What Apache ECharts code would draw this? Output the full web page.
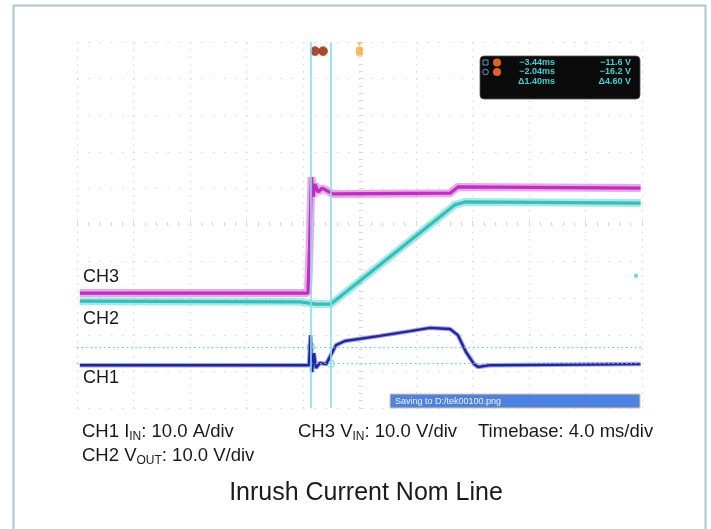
<!DOCTYPE html>
<html>
<head>
<meta charset="utf-8">
<title>Inrush Current Nom Line</title>
<script src="https://cdn.jsdelivr.net/npm/echarts@6/dist/echarts.min.js"></script>
<style>
  html, body { margin: 0; padding: 0; background: #fff; }
  #chart { width: 711px; height: 529px; }
</style>
</head>
<body>
<div id="chart"></div>
<script>
// time in ms (trigger at 0, 4 ms/div), level in screen divisions (centre = 0)
const ch3Time = [-19.8, -3.65, -3.54, -3.40, -3.29, -3.15, -2.94, -2.65, -1.88, 6.41, 6.97, 19.9]
const ch3Div  = [-1.86, -1.86, -0.68, 1.31, 0.77, 1.12, 0.90, 1.01, 0.85, 0.87, 1.04, 1.01]

const ch2Time = [-19.8, -4.2, -3.1, -2.02, 6.76, 7.47, 19.9]
const ch2Div  = [-2.08, -2.10, -2.16, -2.16, 0.55, 0.63, 0.60]

const ch1Time = [-19.8, -3.58, -3.47, -3.36, -3.22, -3.08, -2.80, -2.37, -2.02, -1.66, -1.03, 1.45, 3.58, 4.99, 6.41, 6.97, 7.54, 8.11, 8.39, 9.24, 19.9]
const ch1Div  = [-3.83, -3.83, -3.01, -4.02, -3.50, -3.91, -3.77, -3.80, -3.55, -3.28, -3.17, -3.03, -2.90, -2.81, -2.84, -3.01, -3.47, -3.80, -3.88, -3.83, -3.80]

// cursors a / b
const cursorTimes  = [-3.44, -2.04]
const cursorValues = [-11.6, -16.2]
const cursorLevelDiv = [-3.33, -3.79]

const font = 'Liberation Sans, Arial, Helvetica, sans-serif'
const pair = (xs, ys) => xs.map((x, i) => [x, ys[i]])
const fmt = (v, d) => (v < 0 ? '\u2212' : '') + Math.abs(v).toFixed(d)

const trace = (name, xs, ys, color, width, fuzz) => [
  { name: name + '-band', type: 'line', data: pair(xs, ys), showSymbol: false, silent: true,
    lineStyle: { color, width: fuzz, opacity: 0.4 } },
  { name, type: 'line', data: pair(xs, ys), showSymbol: false, silent: true,
    lineStyle: { color, width } },
]

const gridColor = '#d8d8d8'
const chart = echarts.init(document.getElementById('chart'))

const readout = [
  [fmt(cursorTimes[0], 2) + 'ms', fmt(cursorValues[0], 1) + ' V'],
  [fmt(cursorTimes[1], 2) + 'ms', fmt(cursorValues[1], 1) + ' V'],
  ['\u0394' + Math.abs(cursorTimes[1] - cursorTimes[0]).toFixed(2) + 'ms',
   '\u0394' + Math.abs(cursorValues[1] - cursorValues[0]).toFixed(2) + ' V'],
]
const rowY = [62.5, 72, 81.5]

const textRich = {
  sub: { fontSize: 12, fontFamily: font, fill: '#1a1a1a', padding: [9, 0, 0, 0] },
}
const label = (x, y, text, size, align) => ({
  type: 'text', x, y, z: 100,
  style: { text, fill: '#1a1a1a', font: `${size}px ${font}`, align: align || 'left',
    verticalAlign: 'middle', rich: textRich },
})

chart.setOption({
  animation: false,
  backgroundColor: '#fff',
  grid: { left: 77, right: 69, top: 42, bottom: 121 },
  xAxis: {
    type: 'value', min: -20, max: 20, interval: 4,
    axisLabel: { show: false },
    axisLine: { show: false, onZero: true },
    axisTick: { show: true, inside: true, length: 4, lineStyle: { color: gridColor } },
    minorTick: { show: true, splitNumber: 5, length: 3, lineStyle: { color: gridColor } },
    splitLine: { show: true, lineStyle: { color: gridColor, width: 1.2, type: [1.5, 5.8] } },
  },
  yAxis: {
    type: 'value', min: -5, max: 5, interval: 1,
    axisLabel: { show: false },
    axisLine: { show: false, onZero: true },
    axisTick: { show: true, inside: true, length: 4, lineStyle: { color: gridColor } },
    minorTick: { show: true, splitNumber: 5, length: 3, lineStyle: { color: gridColor } },
    splitLine: { show: true, lineStyle: { color: gridColor, width: 1.2, type: [1.5, 9.8] } },
  },
  series: [
    { name: 'cursors', type: 'line', data: [], silent: true,
      markLine: { silent: true, symbol: 'none', label: { show: false }, animation: false,
        data: [
          ...cursorTimes.map(t => ({ xAxis: t, lineStyle: { color: '#86dfe8', width: 1.6, type: 'solid' } })),
          ...cursorLevelDiv.map(v => ({ yAxis: v, lineStyle: { color: '#5ec8d8', width: 1.2, type: [1.5, 3] } })),
        ] } },
    ...trace('CH3', ch3Time, ch3Div, '#c42ac4', 3.2, 8),
    ...trace('CH2', ch2Time, ch2Div, '#2fc2bd', 3.2, 8),
    ...trace('CH1', ch1Time, ch1Div, '#2323a8', 2.4, 4.5),
    { name: 'cursor marks', type: 'scatter', silent: true, symbol: 'circle', symbolSize: 7,
      itemStyle: { color: 'rgba(0,0,0,0)', borderColor: '#6fd4e2', borderWidth: 1.2 },
      data: pair(cursorTimes, cursorLevelDiv) },
    { name: 'ref', type: 'scatter', silent: true, symbolSize: 4, itemStyle: { color: '#3cc8d0' },
      data: [[19.58, -1.39]] },
    { name: 'ab', type: 'scatter', silent: true, symbolSize: 9,
      itemStyle: { color: '#8a1e06', borderColor: '#d9541c', borderWidth: 1 },
      data: [[-3.15, 4.75], [-2.58, 4.75]] },
    { name: 'trig', type: 'scatter', silent: true, symbol: 'roundRect', symbolSize: [7, 9],
      itemStyle: { color: '#f3a73a' }, data: [[0, 4.75]] },
    { name: 'trig-arrow', type: 'scatter', silent: true, symbol: 'triangle', symbolRotate: 180,
      symbolSize: 5, itemStyle: { color: '#f3b860' }, data: [[0, 4.93]] },
  ],
  graphic: [
    { type: 'rect', z: 100, shape: { x: 13.5, y: 5.5, width: 692, height: 540 },
      style: { fill: 'none', stroke: '#a9c6d3', lineWidth: 2 } },
    // cursor readout
    { type: 'rect', z: 100, shape: { x: 480, y: 56, width: 160, height: 43, r: 4 },
      style: { fill: '#0b0b0b', stroke: '#555', lineWidth: 0.8 } },
    { type: 'rect', z: 101, shape: { x: 483, y: 60, width: 5, height: 5 },
      style: { fill: 'none', stroke: '#4f9fc0', lineWidth: 1 } },
    { type: 'circle', z: 101, shape: { cx: 485.5, cy: 72, r: 2.8 },
      style: { fill: 'none', stroke: '#4f9fc0', lineWidth: 1 } },
    { type: 'circle', z: 101, shape: { cx: 497, cy: 62.5, r: 4 }, style: { fill: '#e5611f' } },
    { type: 'circle', z: 101, shape: { cx: 497, cy: 72, r: 4 }, style: { fill: '#e5611f' } },
    ...readout.flatMap((row, i) => [
      { type: 'text', z: 101, x: 555, y: rowY[i],
        style: { text: row[0], fill: '#3fcfcf', font: `bold 9px ${font}`, align: 'right', verticalAlign: 'middle' } },
      { type: 'text', z: 101, x: 631, y: rowY[i],
        style: { text: row[1], fill: '#3fcfcf', font: `bold 9px ${font}`, align: 'right', verticalAlign: 'middle' } },
    ]),
    // status bar
    { type: 'rect', z: 100, shape: { x: 390, y: 394, width: 250, height: 14 },
      style: { fill: '#4c82e2', stroke: '#f0c48e', lineWidth: 1 } },
    { type: 'text', z: 101, x: 395, y: 401.5,
      style: { text: 'Saving to D:/tek00100.png', fill: '#eef3ff', font: `9px ${font}`, verticalAlign: 'middle' } },
    // channel labels
    label(83, 277, 'CH3', 18),
    label(83, 319, 'CH2', 18),
    label(83, 378, 'CH1', 18),
    // settings
    label(82, 432, 'CH1 I{sub|IN}: 10.0 A/div', 18.5),
    label(82, 456, 'CH2 V{sub|OUT}: 10.0 V/div', 18.5),
    label(298, 432, 'CH3 V{sub|IN}: 10.0 V/div', 18.5),
    label(478, 432, 'Timebase: 4.0 ms/div', 18.5),
    label(366, 493, 'Inrush Current Nom Line', 25, 'center'),
  ],
})
</script>
</body>
</html>
